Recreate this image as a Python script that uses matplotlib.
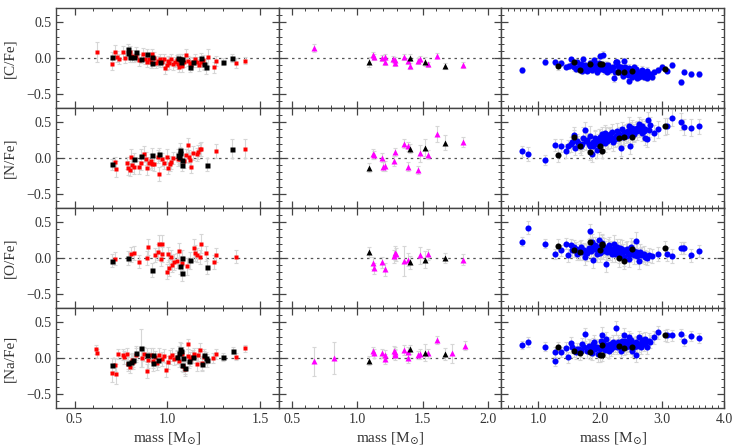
import matplotlib
matplotlib.use("Agg")
import matplotlib.pyplot as plt
from matplotlib.ticker import MultipleLocator, FuncFormatter

# ---------------- data: (mass, [X/Fe], error) ----------------
# Left column: red squares + black squares
cfe_red = [(0.62,0.08,0.14),(0.70,-0.09,0.08),(0.72,0.08,0.10),(0.73,0.02,0.08),(0.74,-0.01,0.07),
           (0.76,0.08,0.09),(0.77,0.00,0.07),(0.80,0.08,0.09),(0.81,0.03,0.08),(0.83,0.03,0.07),
           (0.85,-0.03,0.08),(0.87,0.05,0.09),(0.88,-0.02,0.07),(0.89,-0.05,0.08),(0.90,-0.02,0.07),
           (0.91,-0.06,0.08),(0.92,0.06,0.07),(0.93,0.00,0.08),(0.94,-0.07,0.07),(0.95,-0.04,0.07),
           (0.96,-0.02,0.08),(0.97,-0.06,0.07),(0.98,-0.01,0.06),(0.99,-0.14,0.08),(1.00,-0.10,0.07),
           (1.005,-0.04,0.07),(1.01,-0.07,0.08),(1.02,-0.02,0.07),(1.03,-0.09,0.08),(1.04,-0.05,0.07),
           (1.05,-0.03,0.07),(1.06,-0.08,0.08),(1.065,-0.12,0.07),(1.07,-0.02,0.07),(1.08,-0.11,0.08),
           (1.09,-0.05,0.07),(1.10,0.04,0.09),(1.11,-0.04,0.07),(1.12,-0.07,0.08),(1.13,-0.10,0.07),
           (1.14,-0.06,0.07),(1.15,-0.02,0.08),(1.16,-0.05,0.07),(1.17,-0.10,0.08),(1.18,-0.06,0.07),
           (1.19,-0.03,0.07),(1.20,-0.09,0.08),(1.22,0.01,0.12),(1.25,-0.13,0.08),(1.26,-0.04,0.07),
           (1.37,-0.07,0.07),(1.42,-0.04,0.05)]
cfe_blk = [(0.70,0.01,0.07),(0.79,0.12,0.08),(0.79,0.07,0.07),(0.80,0.01,0.07),(0.82,0.01,0.06),
           (0.83,0.08,0.07),(0.86,-0.01,0.06),(0.89,0.06,0.07),(0.92,0.015,0.06),(0.92,-0.07,0.07),
           (0.96,-0.06,0.07),(1.06,-0.005,0.06),(1.07,-0.01,0.07),(1.075,-0.05,0.06),(1.08,-0.02,0.07),
           (1.12,-0.13,0.07),(1.14,-0.06,0.06),(1.18,0.00,0.07),(1.20,-0.09,0.06),(1.21,-0.12,0.10),
           (1.30,-0.05,0.05),(1.35,0.00,0.05)]

nfe_red = [(0.72,-0.06,0.08),(0.725,-0.15,0.11),(0.785,-0.07,0.09),(0.79,-0.14,0.10),(0.80,-0.165,0.09),
           (0.805,0.02,0.10),(0.81,-0.10,0.09),(0.82,-0.12,0.10),(0.85,-0.13,0.09),(0.86,-0.07,0.10),
           (0.875,0.06,0.11),(0.885,-0.01,0.09),(0.89,-0.14,0.10),(0.90,-0.07,0.09),(0.91,-0.04,0.10),
           (0.915,-0.08,0.09),(0.93,-0.085,0.10),(0.95,0.02,0.09),(0.955,-0.22,0.10),(0.97,-0.02,0.09),
           (0.98,-0.07,0.09),(1.00,0.02,0.10),(1.005,-0.14,0.09),(1.015,-0.085,0.10),(1.02,-0.06,0.09),
           (1.03,0.00,0.09),(1.055,-0.01,0.10),(1.07,-0.01,0.09),(1.09,-0.04,0.10),(1.10,0.04,0.09),
           (1.11,0.18,0.10),(1.115,0.02,0.09),(1.12,-0.03,0.10),(1.13,-0.12,0.09),(1.14,0.075,0.10),
           (1.16,0.05,0.09),(1.165,0.085,0.10),(1.175,0.12,0.09),(1.18,0.13,0.10),(1.26,0.10,0.10),
           (1.42,0.13,0.13)]
nfe_blk = [(0.70,-0.09,0.08),(0.82,-0.015,0.09),(0.86,0.03,0.09),(0.92,0.04,0.10),(0.955,0.05,0.09),
           (1.055,0.04,0.09),(1.07,0.11,0.10),(1.07,0.07,0.09),(1.065,0.02,0.10),(1.08,-0.095,0.09),
           (1.08,-0.03,0.09),(1.215,-0.095,0.09),(1.35,0.13,0.13)]

ofe_red = [(0.72,-0.01,0.09),(0.805,0.05,0.10),(0.82,0.075,0.10),(0.85,-0.05,0.09),(0.89,0.005,0.10),
           (0.895,0.15,0.11),(0.935,0.04,0.10),(0.95,0.08,0.11),(0.955,0.20,0.12),(0.97,0.20,0.12),
           (0.965,-0.015,0.10),(0.97,0.05,0.10),(1.00,-0.19,0.11),(1.005,0.05,0.10),(1.01,-0.14,0.11),
           (1.02,0.01,0.10),(1.025,-0.095,0.10),(1.035,-0.055,0.11),(1.05,-0.035,0.10),(1.065,0.105,0.11),
           (1.08,-0.065,0.10),(1.105,-0.115,0.12),(1.145,0.14,0.13),(1.147,0.075,0.11),(1.16,0.04,0.10),
           (1.175,0.015,0.10),(1.18,0.20,0.13),(1.21,0.065,0.10),(1.25,-0.055,0.10),(1.26,0.04,0.10),
           (1.37,0.02,0.09)]
ofe_blk = [(0.70,-0.04,0.09),(0.79,0.00,0.10),(0.92,-0.17,0.10),(1.07,-0.11,0.12),(1.08,0.00,0.11),
           (1.08,-0.21,0.11),(1.12,-0.03,0.12),(1.215,-0.12,0.10)]

nafe_red = [(0.614,0.123,0.06),(0.62,0.066,0.06),(0.70,-0.21,0.12),(0.723,-0.226,0.14),(0.718,-0.094,0.09),
            (0.736,0.052,0.07),(0.763,0.047,0.08),(0.767,0.01,0.09),(0.78,0.057,0.08),(0.79,-0.085,0.10),
            (0.80,-0.12,0.09),(0.808,-0.03,0.10),(0.817,-0.06,0.09),(0.83,0.047,0.10),(0.862,0.00,0.12),
            (0.876,0.057,0.10),(0.889,-0.18,0.10),(0.898,-0.03,0.11),(0.91,0.047,0.09),(0.925,-0.04,0.10),
            (0.934,0.01,0.09),(0.943,-0.07,0.10),(0.957,0.047,0.09),(0.97,-0.014,0.10),(0.984,0.033,0.09),
            (0.993,-0.17,0.10),(1.006,-0.06,0.09),(1.015,0.01,0.10),(1.024,0.047,0.09),(1.038,-0.014,0.09),
            (1.05,0.01,0.10),(1.063,-0.04,0.09),(1.077,0.057,0.10),(1.086,-0.108,0.09),(1.095,-0.156,0.10),
            (1.11,0.19,0.07),(1.113,0.033,0.09),(1.122,-0.014,0.10),(1.131,0.019,0.09),(1.146,0.057,0.09),
            (1.158,-0.085,0.10),(1.167,0.047,0.09),(1.176,0.118,0.09),(1.187,-0.075,0.09),(1.198,0.01,0.09),
            (1.248,0.00,0.07),(1.262,0.057,0.07),(1.369,0.019,0.05),(1.419,0.137,0.05)]
nafe_blk = [(0.70,-0.10,0.10),(0.786,-0.07,0.09),(0.804,-0.05,0.10),(0.817,-0.03,0.09),(0.831,0.066,0.10),
            (0.856,0.14,0.26),(0.889,0.038,0.10),(0.921,0.047,0.09),(0.925,-0.075,0.10),(0.952,-0.03,0.09),
            (1.05,0.01,0.09),(1.065,0.066,0.10),(1.068,0.13,0.09),(1.074,0.104,0.10),(1.077,-0.094,0.09),
            (1.083,0.00,0.10),(1.095,-0.14,0.09),(1.119,-0.047,0.09),(1.14,0.019,0.09),(1.185,-0.085,0.09),
            (1.198,0.042,0.09),(1.207,0.00,0.09),(1.216,-0.03,0.09),(1.302,0.014,0.05),(1.352,0.104,0.05)]

# Middle column: magenta triangles + black triangles
cfe_mag = [(0.67,0.14,0.05),(1.12,0.04,0.04),(1.13,0.015,0.04),(1.19,0.00,0.04),(1.21,0.01,0.04),
           (1.21,-0.06,0.04),(1.27,-0.01,0.04),(1.285,-0.03,0.04),(1.29,-0.075,0.04),(1.355,0.015,0.04),
           (1.39,-0.04,0.04),(1.40,-0.11,0.04),(1.46,-0.04,0.04),(1.48,-0.015,0.04),(1.54,-0.09,0.04),
           (1.61,0.035,0.04),(1.81,-0.10,0.04)]
cfe_mtb = [(1.086,-0.05,0.07),(1.40,0.005,0.05),(1.52,-0.05,0.06),(1.67,-0.11,0.04)]

nfe_mag = [(1.12,0.06,0.07),(1.13,0.04,0.06),(1.19,0.005,0.06),(1.21,-0.11,0.07),(1.20,-0.12,0.06),
           (1.28,-0.04,0.07),(1.29,0.085,0.06),(1.355,0.20,0.06),(1.39,0.165,0.06),(1.39,-0.12,0.06),
           (1.46,-0.165,0.06),(1.48,0.065,0.12),(1.54,0.047,0.06),(1.61,0.34,0.11),(1.81,0.23,0.07)]
nfe_mtb = [(1.086,-0.135,0.06),(1.40,0.13,0.06),(1.52,0.146,0.12),(1.67,0.217,0.11)]

ofe_mag = [(1.12,-0.07,0.08),(1.13,-0.146,0.08),(1.19,-0.06,0.08),(1.21,-0.155,0.09),(1.28,0.024,0.09),
           (1.29,0.07,0.10),(1.295,0.05,0.09),(1.355,-0.047,0.21),(1.39,-0.024,0.09),(1.48,0.038,0.12),
           (1.54,0.052,0.08),(1.81,-0.024,0.08)]
ofe_mtb = [(1.086,0.085,0.07),(1.40,-0.057,0.09),(1.52,-0.024,0.12),(1.67,0.005,0.07)]

nafe_mag = [(0.67,-0.047,0.20),(0.82,0.00,0.23),(1.12,0.10,0.06),(1.13,0.066,0.06),(1.19,0.066,0.06),
            (1.21,0.047,0.06),(1.21,-0.02,0.07),(1.28,0.10,0.07),(1.29,0.09,0.06),(1.29,0.047,0.07),
            (1.285,0.06,0.06),(1.355,0.118,0.07),(1.39,0.08,0.07),(1.39,0.00,0.07),(1.46,0.042,0.06),
            (1.48,0.06,0.07),(1.54,0.066,0.06),(1.61,0.255,0.06),(1.72,0.066,0.13),(1.82,0.175,0.06)]
nafe_mtb = [(1.086,-0.038,0.06),(1.40,0.123,0.06),(1.52,0.075,0.12),(1.67,0.057,0.08)]

# Right column: blue circles + black circles
cfe_blu = [(0.74,-0.17,0.04),(1.11,-0.06,0.04),(1.26,-0.06,0.04),(1.36,-0.07,0.04),(1.44,-0.12,0.04),
           (1.49,-0.11,0.04),(1.52,-0.02,0.04),(1.55,-0.095,0.04),(1.57,-0.13,0.05),(1.61,-0.16,0.04),
           (1.63,-0.06,0.04),(1.66,-0.12,0.05),(1.68,-0.09,0.04),(1.70,-0.18,0.05),(1.72,-0.015,0.04),
           (1.74,-0.14,0.05),(1.76,-0.095,0.04),(1.78,-0.13,0.05),(1.79,-0.175,0.04),(1.82,-0.12,0.05),
           (1.84,-0.07,0.04),(1.85,-0.15,0.05),(1.87,-0.167,0.04),(1.88,-0.10,0.05),(1.90,-0.024,0.04),
           (1.92,-0.11,0.05),(1.93,-0.14,0.04),(1.95,-0.19,0.05),(1.96,-0.09,0.04),(1.98,-0.07,0.05),
           (1.99,0.033,0.04),(2.00,-0.15,0.05),(2.02,-0.12,0.04),(2.04,0.048,0.05),(2.05,-0.11,0.04),
           (2.06,-0.167,0.05),(2.08,-0.14,0.04),(2.09,-0.095,0.05),(2.11,-0.19,0.04),(2.12,-0.10,0.05),
           (2.14,-0.12,0.04),(2.15,-0.17,0.05),(2.18,-0.157,0.04),(2.20,-0.13,0.05),(2.22,-0.286,0.05),
           (2.23,-0.20,0.04),(2.25,-0.06,0.05),(2.26,-0.06,0.04),(2.27,-0.05,0.04),(2.28,-0.11,0.05),
           (2.29,-0.19,0.04),(2.31,-0.16,0.05),(2.33,-0.12,0.04),(2.35,-0.214,0.05),(2.36,-0.25,0.04),
           (2.38,-0.048,0.05),(2.40,-0.13,0.04),(2.41,-0.167,0.05),(2.43,-0.20,0.04),(2.44,-0.238,0.05),
           (2.46,-0.32,0.04),(2.47,-0.14,0.05),(2.49,-0.19,0.04),(2.50,-0.23,0.05),(2.52,-0.262,0.04),
           (2.54,-0.167,0.05),(2.55,-0.12,0.04),(2.57,-0.22,0.05),(2.58,-0.19,0.04),(2.58,-0.15,0.05),
           (2.60,-0.286,0.04),(2.62,-0.19,0.05),(2.63,-0.26,0.04),(2.65,-0.238,0.05),(2.66,-0.20,0.04),
           (2.68,-0.167,0.05),(2.70,-0.262,0.04),(2.72,-0.24,0.05),(2.73,-0.214,0.04),(2.75,-0.18,0.05),
           (2.76,-0.286,0.04),(2.78,-0.238,0.05),(2.80,-0.22,0.04),(2.83,-0.262,0.05),(2.87,-0.19,0.04),
           (2.94,-0.167,0.04),(3.00,-0.12,0.04),(3.08,-0.176,0.04),(3.16,-0.095,0.04),(3.30,-0.34,0.04),
           (3.35,-0.19,0.04),(3.46,-0.22,0.04),(3.59,-0.22,0.04)]
cfe_bbk = [(1.32,-0.105,0.06),(1.575,-0.05,0.04),(1.67,-0.167,0.04),(1.84,-0.086,0.04),(2.00,-0.09,0.04),
           (2.03,-0.08,0.04),(2.29,-0.20,0.04),(2.38,-0.20,0.04),(2.52,-0.186,0.04),(3.04,-0.148,0.04)]

nfe_blu = [(0.74,0.094,0.08),(0.83,0.06,0.10),(1.11,-0.033,0.07),(1.26,0.18,0.08),(1.36,0.175,0.09),
           (1.44,0.094,0.10),(1.48,0.165,0.09),(1.52,0.19,0.10),(1.55,0.22,0.09),(1.575,0.316,0.12),
           (1.59,0.14,0.10),(1.62,0.24,0.09),(1.64,0.21,0.10),(1.68,0.165,0.12),(1.70,0.20,0.10),
           (1.72,0.283,0.15),(1.76,0.39,0.11),(1.77,0.236,0.12),(1.79,0.25,0.10),(1.81,0.19,0.13),
           (1.83,0.17,0.10),(1.84,0.306,0.14),(1.86,0.06,0.12),(1.88,0.22,0.10),(1.89,0.165,0.13),
           (1.91,0.28,0.11),(1.92,0.236,0.14),(1.94,0.19,0.10),(1.95,0.118,0.12),(1.97,0.23,0.11),
           (1.98,0.27,0.13),(2.00,0.30,0.10),(2.01,0.212,0.12),(2.03,0.33,0.11),(2.04,0.25,0.13),
           (2.06,0.283,0.10),(2.07,0.21,0.12),(2.08,0.354,0.11),(2.10,0.30,0.13),(2.11,0.236,0.10),
           (2.13,0.25,0.12),(2.14,0.306,0.11),(2.16,0.33,0.10),(2.17,0.26,0.12),(2.19,0.363,0.11),
           (2.20,0.28,0.10),(2.21,0.22,0.12),(2.23,0.26,0.11),(2.25,0.306,0.10),(2.27,0.377,0.12),
           (2.28,0.28,0.11),(2.30,0.33,0.10),(2.32,0.31,0.12),(2.34,0.14,0.11),(2.35,0.40,0.10),
           (2.37,0.29,0.12),(2.38,0.354,0.11),(2.41,0.306,0.10),(2.42,0.36,0.12),(2.44,0.377,0.11),
           (2.45,0.32,0.10),(2.46,0.45,0.12),(2.48,0.165,0.11),(2.49,0.354,0.10),(2.50,0.38,0.12),
           (2.52,0.425,0.11),(2.54,0.33,0.10),(2.55,0.36,0.12),(2.57,0.40,0.11),(2.59,0.42,0.10),
           (2.60,0.377,0.12),(2.62,0.47,0.11),(2.63,0.39,0.10),(2.65,0.425,0.12),(2.67,0.35,0.11),
           (2.68,0.45,0.10),(2.70,0.377,0.12),(2.72,0.41,0.11),(2.73,0.283,0.10),(2.75,0.27,0.12),
           (2.77,0.53,0.11),(2.79,0.39,0.10),(2.81,0.46,0.12),(2.87,0.354,0.11),(2.94,0.40,0.12),
           (3.08,0.45,0.11),(3.16,0.566,0.12),(3.30,0.51,0.12),(3.35,0.434,0.11),(3.46,0.425,0.12),
           (3.59,0.443,0.11)]
nfe_bbk = [(1.32,0.042,0.10),(1.575,0.288,0.11),(1.67,0.165,0.10),(1.84,0.09,0.12),(2.00,0.165,0.11),
           (2.02,0.104,0.10),(2.30,0.283,0.10),(2.39,0.297,0.11),(2.52,0.30,0.10),(3.04,0.443,0.12)]

ofe_blu = [(0.74,0.23,0.06),(0.83,0.425,0.09),(1.11,0.20,0.06),(1.26,0.052,0.07),(1.36,0.108,0.08),
           (1.44,0.20,0.08),(1.48,0.038,0.09),(1.52,0.18,0.09),(1.55,0.108,0.10),(1.575,0.156,0.09),
           (1.60,0.12,0.10),(1.63,0.061,0.09),(1.65,0.09,0.10),(1.67,0.132,0.11),(1.69,0.15,0.10),
           (1.71,0.085,0.11),(1.73,0.11,0.10),(1.75,0.014,0.11),(1.77,0.08,0.12),(1.79,0.07,0.11),
           (1.81,0.14,0.12),(1.83,0.377,0.10),(1.85,0.10,0.12),(1.86,0.226,0.11),(1.88,0.17,0.12),
           (1.89,-0.033,0.11),(1.90,0.132,0.12),(1.92,0.179,0.11),(1.94,0.12,0.12),(1.95,0.061,0.11),
           (1.97,0.15,0.12),(1.98,0.259,0.11),(2.00,0.07,0.12),(2.01,0.108,0.11),(2.03,0.212,0.12),
           (2.05,0.10,0.11),(2.06,0.156,0.12),(2.08,0.13,0.11),(2.10,-0.08,0.12),(2.11,0.085,0.11),
           (2.12,0.14,0.12),(2.14,0.179,0.11),(2.16,0.09,0.12),(2.17,0.132,0.11),(2.19,0.061,0.12),
           (2.20,0.12,0.11),(2.22,0.203,0.12),(2.24,0.06,0.11),(2.25,0.108,0.12),(2.27,0.156,0.11),
           (2.29,0.10,0.12),(2.30,0.038,0.11),(2.32,0.14,0.12),(2.33,0.085,0.11),(2.35,0.132,0.12),
           (2.37,0.08,0.11),(2.38,0.014,0.12),(2.41,0.108,0.11),(2.43,0.12,0.12),(2.44,0.061,0.11),
           (2.46,-0.009,0.12),(2.48,0.05,0.11),(2.49,0.156,0.12),(2.52,0.108,0.11),(2.54,0.038,0.12),
           (2.55,0.10,0.11),(2.57,0.24,0.12),(2.59,0.03,0.11),(2.60,0.085,0.12),(2.62,-0.047,0.11),
           (2.64,0.09,0.10),(2.65,0.038,0.11),(2.68,0.061,0.10),(2.70,0.06,0.11),(2.73,0.014,0.10),
           (2.75,0.00,0.10),(2.78,0.038,0.10),(2.84,0.024,0.10),(2.93,0.052,0.10),(3.08,0.052,0.10),
           (3.16,0.028,0.10),(3.30,0.14,0.09),(3.33,0.14,0.09),(3.35,0.14,0.09),(3.46,0.038,0.09),
           (3.59,0.099,0.09)]
ofe_bbk = [(1.32,0.17,0.09),(1.575,0.108,0.10),(1.67,0.085,0.11),(1.84,0.222,0.12),(2.00,0.108,0.12),
           (2.02,0.20,0.12),(2.03,0.18,0.11),(2.30,0.00,0.12),(2.38,-0.042,0.11),(2.52,0.123,0.12),
           (3.04,0.14,0.10)]

nafe_blu = [(0.74,0.18,0.06),(0.83,0.23,0.07),(1.11,0.16,0.06),(1.26,-0.047,0.06),(1.27,0.08,0.07),
            (1.36,0.08,0.07),(1.44,0.14,0.08),(1.48,0.01,0.08),(1.52,0.21,0.08),(1.55,0.15,0.08),
            (1.60,0.08,0.09),(1.63,0.13,0.08),(1.66,0.127,0.09),(1.69,0.10,0.08),(1.71,0.19,0.09),
            (1.74,0.15,0.08),(1.76,0.33,0.09),(1.79,0.104,0.10),(1.81,0.17,0.09),(1.84,0.15,0.10),
            (1.86,0.12,0.09),(1.87,0.066,0.10),(1.89,0.19,0.09),(1.90,0.22,0.10),(1.92,0.127,0.09),
            (1.94,0.16,0.10),(1.97,0.057,0.11),(1.99,0.12,0.09),(2.01,0.245,0.10),(2.03,0.316,0.12),
            (2.04,0.21,0.10),(2.06,0.15,0.09),(2.07,0.11,0.10),(2.09,0.269,0.09),(2.11,0.189,0.10),
            (2.12,0.16,0.09),(2.14,0.104,0.10),(2.16,0.20,0.09),(2.18,0.127,0.10),(2.20,0.15,0.09),
            (2.21,0.222,0.10),(2.23,0.18,0.09),(2.25,0.42,0.10),(2.27,0.15,0.09),(2.28,0.22,0.10),
            (2.30,0.198,0.09),(2.32,0.16,0.10),(2.33,0.104,0.09),(2.35,0.245,0.10),(2.37,0.19,0.09),
            (2.38,0.316,0.10),(2.40,0.24,0.09),(2.41,0.15,0.10),(2.43,0.17,0.09),(2.44,0.222,0.10),
            (2.46,0.292,0.09),(2.47,0.20,0.10),(2.49,0.15,0.09),(2.50,0.25,0.10),(2.52,0.104,0.09),
            (2.54,0.198,0.10),(2.55,0.16,0.09),(2.57,0.047,0.10),(2.58,0.22,0.09),(2.60,0.174,0.10),
            (2.62,0.292,0.09),(2.63,0.19,0.10),(2.65,0.15,0.09),(2.67,0.25,0.10),(2.68,0.222,0.09),
            (2.70,0.198,0.10),(2.72,0.21,0.09),(2.73,0.269,0.10),(2.76,0.15,0.09),(2.78,0.245,0.10),
            (2.80,0.23,0.09),(2.87,0.292,0.09),(2.94,0.363,0.09),(3.08,0.316,0.09),(3.16,0.316,0.08),
            (3.30,0.33,0.07),(3.35,0.245,0.08),(3.46,0.302,0.07),(3.59,0.28,0.07)]
nafe_bbk = [(1.32,0.15,0.07),(1.575,0.094,0.08),(1.67,0.066,0.09),(1.84,0.09,0.10),(2.00,0.042,0.10),
            (2.02,0.042,0.09),(2.03,0.18,0.10),(2.30,0.17,0.09),(2.39,0.14,0.10),(2.52,0.15,0.09),
            (3.04,0.316,0.08)]

row_labels = ["[C/Fe]", "[N/Fe]", "[O/Fe]", "[Na/Fe]"]
xlabel_text = r"mass [M$_{\odot}$]"
col_xlims = [(0.4, 1.6), (0.4, 2.1), (0.4, 4.0)]
col_major = [0.5, 0.5, 1.0]
ylims = (-0.7, 0.7)

grid = [
    [(cfe_red, cfe_blk), (cfe_mag, cfe_mtb), (cfe_blu, cfe_bbk)],
    [(nfe_red, nfe_blk), (nfe_mag, nfe_mtb), (nfe_blu, nfe_bbk)],
    [(ofe_red, ofe_blk), (ofe_mag, ofe_mtb), (ofe_blu, ofe_bbk)],
    [(nafe_red, nafe_blk), (nafe_mag, nafe_mtb), (nafe_blu, nafe_bbk)],
]
col_styles = [
    dict(marker="s", color="#ff0000", ms=3.1, bcolor="#000000", bms=3.6),
    dict(marker="^", color="#ff00ff", ms=4.2, bcolor="#000000", bms=4.2),
    dict(marker="o", color="#0000ff", ms=4.4, bcolor="#000000", bms=4.4),
]

# ---------------- plotting ----------------
plt.rcParams["font.family"] = ["Liberation Serif", "DejaVu Serif"]
plt.rcParams["mathtext.fontset"] = "dejavuserif"
txtc = "#333333"
spc = "#444444"

fig = plt.figure(figsize=(7.36, 4.45), dpi=100)
gs = fig.add_gridspec(4, 3, left=56/736, right=724/736,
                      bottom=1-408/445, top=1-8/445, wspace=0, hspace=0)

fmt = FuncFormatter(lambda v, p: f"{v:.1f}".replace("-", "\u2212"))

for r in range(4):
    for c in range(3):
        ax = fig.add_subplot(gs[r, c])
        main, blk = grid[r][c]
        st = col_styles[c]
        ax.axhline(0, color="#555555", lw=0.9, ls=(0, (2, 3)), zorder=0)
        for series in (main, blk):
            xs = [p[0] for p in series]
            ys = [p[1] for p in series]
            es = [p[2] for p in series]
            ax.errorbar(xs, ys, yerr=es, fmt="none", ecolor="#d6d6d6",
                        elinewidth=0.8, capsize=1.6, capthick=0.8, zorder=1)
        for series, col, ms, z in ((main, st["color"], st["ms"], 3), (blk, st["bcolor"], st["bms"], 4)):
            xs = [p[0] for p in series]
            ys = [p[1] for p in series]
            ax.plot(xs, ys, ls="none", marker=st["marker"], color=col, ms=ms,
                    mec="none", zorder=z)
        ax.set_xlim(*col_xlims[c])
        ax.set_ylim(*ylims)
        ax.xaxis.set_major_locator(MultipleLocator(col_major[c]))
        ax.xaxis.set_minor_locator(MultipleLocator(0.1))
        ax.yaxis.set_major_locator(MultipleLocator(0.5))
        ax.yaxis.set_minor_locator(MultipleLocator(0.1))
        ax.xaxis.set_major_formatter(fmt)
        ax.yaxis.set_major_formatter(fmt)
        ax.tick_params(which="both", direction="in", top=True, right=True,
                       color=spc, labelcolor=txtc, labelsize=10)
        ax.tick_params(which="major", length=5, width=0.9)
        ax.tick_params(which="minor", length=2.5, width=0.7)
        for s in ax.spines.values():
            s.set_color(spc)
            s.set_linewidth(1.0)
        if c != 0:
            ax.tick_params(labelleft=False)
        else:
            ax.set_ylabel(row_labels[r], fontsize=11, color=txtc, labelpad=7)
        if r != 3:
            ax.tick_params(labelbottom=False)
        else:
            ax.set_xlabel(xlabel_text, fontsize=11, color=txtc, labelpad=3)

fig.savefig("out.png", dpi=100)
